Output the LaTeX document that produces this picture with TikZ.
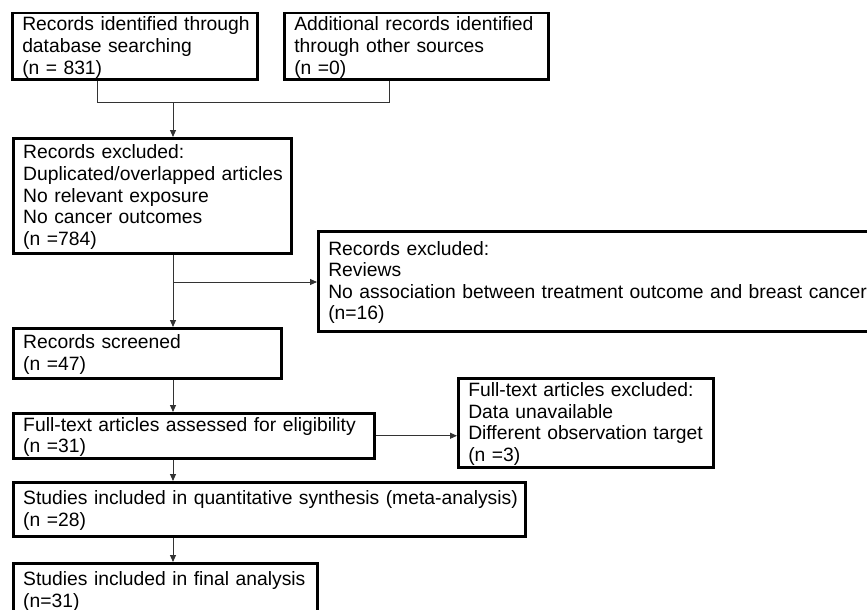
\documentclass[tikz,border=0pt]{standalone}
\usepackage{fontspec}
\setmainfont{Liberation Sans}
\usetikzlibrary{arrows.meta}
\newcommand{\tlines}[1]{\raisebox{-2pt}[\height][\depth]{\begin{tabular}{@{}l@{}}#1\end{tabular}}}
\begin{document}
\begin{tikzpicture}[x=1pt,y=-1pt,
  box/.style={draw, line width=2.5pt, anchor=north west, inner xsep=10pt, inner ysep=0pt,
    align=left, font=\fontsize{19.3}{21.6}\selectfont},
  conn/.style={line width=0.9pt, draw=black!80},
  arrow/.style={conn, -{Triangle[length=7pt,width=6pt]}}]
\useasboundingbox (0,0) rectangle (867,610);
\clip (0,0) rectangle (867,610);
\node[box, minimum width=245pt, text width=225pt, minimum height=66pt] (A) at (11,12)
  {\tlines{Records identified through\\database searching\\(n = 831)}};
\node[box, minimum width=264pt, text width=244pt, minimum height=66pt] (B) at (283,12)
  {\tlines{Additional records identified\\through other sources\\(n =0)}};
\node[box, minimum width=278pt, text width=258pt, minimum height=115pt] (C) at (12,137)
  {\tlines{Records excluded:\\Duplicated/overlapped articles\\No relevant exposure\\No cancer outcomes\\(n =784)}};
\node[box, minimum width=600pt, text width=580pt, minimum height=100pt] (R1) at (317,230)
  {\tlines{Records excluded:\\Reviews\\No association between treatment outcome and breast cancer\\(n=16)}};
\node[box, minimum width=268pt, text width=248pt, minimum height=50pt] (D) at (12,327)
  {\tlines{Records screened\\(n =47)}};
\node[box, minimum width=361pt, text width=341pt, minimum height=45pt] (E) at (12,412)
  {\tlines{Full-text articles assessed for eligibility\\(n =31)}};
\node[box, minimum width=255pt, text width=235pt, minimum height=89pt] (R2) at (457,377)
  {\tlines{Full-text articles excluded:\\Data unavailable\\Different observation target\\(n =3)}};
\node[box, minimum width=512pt, text width=492pt, minimum height=54pt] (F) at (12,481)
  {\tlines{Studies included in quantitative synthesis (meta-analysis)\\(n =28)}};
\node[box, minimum width=304pt, text width=284pt, minimum height=54pt] (G) at (12,562)
  {\tlines{Studies included in final analysis\\(n=31)}};
\coordinate (m1) at (97,102);
\coordinate (m2) at (389,102);
\coordinate (j) at (173,102);
\coordinate (b1) at (173,282);
\draw[conn] (A.south -| m1) -- (m1) -- (m2) -- (B.south -| m2);
\draw[arrow] (j) -- (C.north -| j);
\draw[arrow] (C.south -| j) -- (D.north -| j);
\draw[arrow] (b1) -- (R1.west |- b1);
\draw[arrow] (D.south -| j) -- (E.north -| j);
\draw[arrow] (E.east) -- (E.east -| R2.west);
\draw[arrow] (E.south -| j) -- (F.north -| j);
\draw[arrow] (F.south -| j) -- (G.north -| j);
\end{tikzpicture}
\end{document}
